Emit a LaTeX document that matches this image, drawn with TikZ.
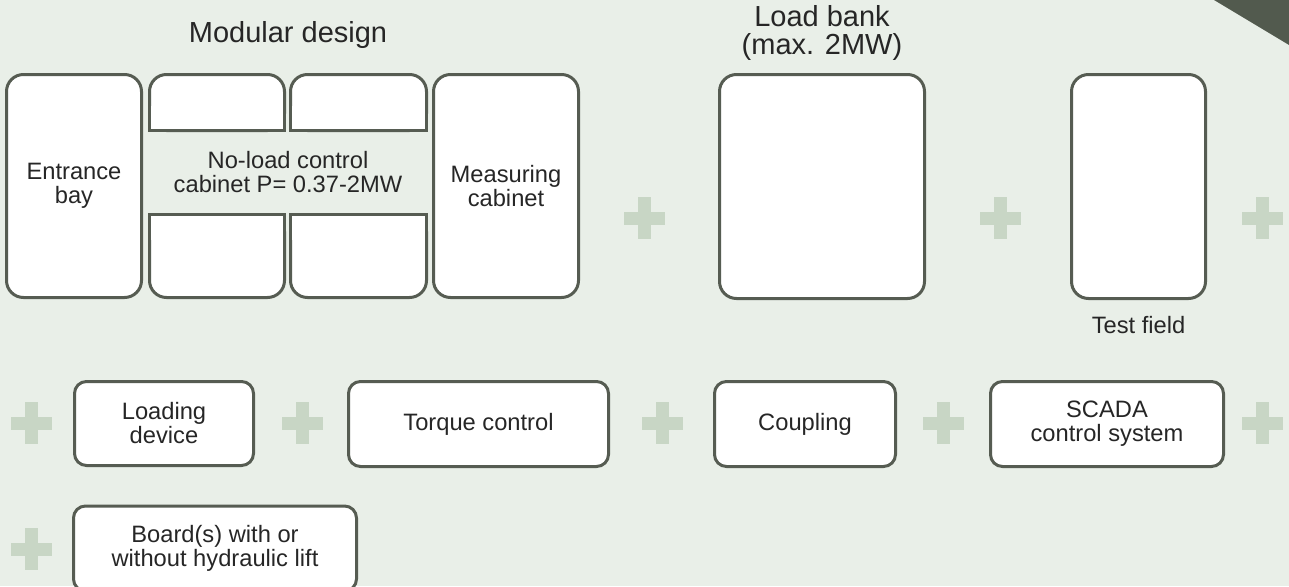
\documentclass[tikz,border=0pt]{standalone}
\usepackage{fontspec}
\setmainfont{Liberation Sans}
\definecolor{bg}{HTML}{E9EFE8}
\definecolor{edge}{HTML}{565C52}
\definecolor{plusc}{HTML}{C8D6C5}
\definecolor{corner}{HTML}{525A4E}
\definecolor{ink}{HTML}{262626}
\newcommand\bodyfont{\fontsize{23.7}{24}\selectfont}
\newcommand\titlefont{\fontsize{29}{28}\selectfont}
\begin{document}
\begin{tikzpicture}[x=1pt,y=-1pt,
  box/.style={draw=edge, line width=3pt, fill=white, rounded corners=17pt,
    inner sep=0pt, outer sep=0pt, align=center, font=\bodyfont, text=ink},
  smallbox/.style={box, rounded corners=12pt},
  label/.style={font=\bodyfont, text=ink, align=center, inner sep=0pt},
  title/.style={font=\titlefont, text=ink, inner sep=0pt},
  sqline/.style={draw=edge, line width=3pt},
  plussign/.pic={\fill[plusc] (-20.5,-6.5) rectangle (20.5,6.5);
                 \fill[plusc] (-6.5,-21) rectangle (6.5,21);}]
\useasboundingbox (0,0) rectangle (1289,586);
\clip (0,0) rectangle (1289,586);
\fill[bg] (0,0) rectangle (1289,586);
\fill[corner] (1214,0) -- (1289,0) -- (1289,45) -- cycle;

% titles
\node[title, anchor=base] (tmod) at (288,43) {Modular design};
\node[title, anchor=base] (tload1) at (822,27) {Load bank};
\node[title, anchor=base] (tload2) at (822,55) {(max. 2MW)};

% modular design
\node[box, minimum width=135pt, minimum height=223pt] (entr) at (74,186) {Entrance\\bay};
\node[box, minimum width=145pt, minimum height=223pt] (meas) at (506,186) {Measuring\\cabinet};
\node[box, minimum width=135pt, minimum height=56pt] (t1) at (217,102.5) {};
\node[box, minimum width=136pt, minimum height=56pt] (t2) at (358.5,102.5) {};
\node[box, minimum width=135pt, minimum height=83pt] (b1) at (217,256) {};
\node[box, minimum width=136pt, minimum height=83pt] (b2) at (358.5,256) {};
\foreach \n in {t1,t2}{
  \fill[white] ([xshift=1.5pt,yshift=1.5pt]\n.south west) rectangle ([xshift=-1.5pt,yshift=25pt]\n.south east);
  \draw[sqline] ([yshift=25pt]\n.south west) -- (\n.south west) -- (\n.south east) -- ([yshift=25pt]\n.south east);
}
\foreach \n in {b1,b2}{
  \fill[white] ([xshift=1.5pt,yshift=-1.5pt]\n.north west) rectangle ([xshift=-1.5pt,yshift=-25pt]\n.north east);
  \draw[sqline] ([yshift=-25pt]\n.north west) -- (\n.north west) -- (\n.north east) -- ([yshift=-25pt]\n.north east);
}
\node[label] (noload) at (288,172) {No-load control\\cabinet P= 0.37-2MW};

% load bank and test field
\node[box, minimum width=205pt, minimum height=224pt] (bank) at (822,186.5) {};
\node[box, minimum width=134pt, minimum height=224pt] (field) at (1138.5,186.5) {};
\node[label, anchor=base] (fieldlbl) at (1138.5,333) {Test field};

% row 1 pluses
\pic at (644.5,218) {plussign};
\pic at (1000,218) {plussign};
\pic at (1262.5,218) {plussign};

% row 2
\pic at (31,423) {plussign};
\node[smallbox, minimum width=179pt, minimum height=84pt] (loading) at (164,423.5) {Loading\\device};
\pic at (302,423) {plussign};
\node[smallbox, minimum width=260pt, minimum height=85pt] (torque) at (478.5,424) {Torque control};
\pic at (662,423) {plussign};
\node[smallbox, minimum width=181pt, minimum height=85pt] (coupling) at (805,424) {Coupling};
\pic at (943,423) {plussign};
\node[smallbox, minimum width=233pt, minimum height=85pt] (scada) at (1107,424) {SCADA\\control system};
\pic at (1262.5,423) {plussign};

% row 3
\pic at (31,549) {plussign};
\node[smallbox, minimum width=283pt, minimum height=85pt] (board) at (215,548.5) {Board(s) with or\\without hydraulic lift};
\end{tikzpicture}
\end{document}
